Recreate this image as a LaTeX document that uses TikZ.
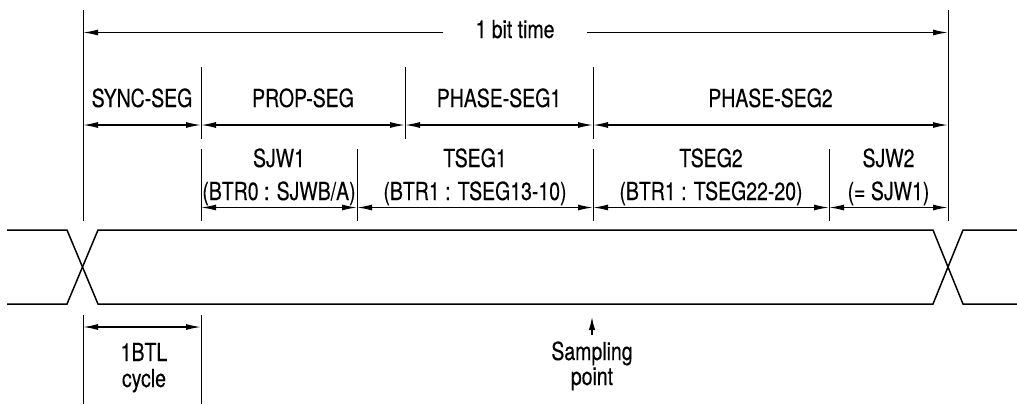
\documentclass[tikz,border=0pt]{standalone}
\usepackage{fontspec}
\setmainfont[FakeStretch=0.78,FakeBold=0.25]{TeX Gyre Heros}
\usetikzlibrary{arrows.meta,positioning,calc}

\begin{document}
\begin{tikzpicture}[x=0.2mm,y=-0.2mm,
    tick/.style={line width=0.5pt},
    dim/.style={line width=0.75pt,{Latex[length=3mm,width=1.2mm]}-{Latex[length=3mm,width=1.2mm]}},
    pointer/.style={line width=0.75pt,-{Latex[length=2.6mm,width=1.3mm]}},
    wave/.style={line width=0.85pt},
    lbl/.style={font=\fontsize{14.2}{17}\selectfont,inner sep=0pt,anchor=base}]
    \useasboundingbox (0,0) rectangle (1017,404);

    % Bit boundaries
    \coordinate (bitL) at (83,32.5); \coordinate (bitR) at (948,32.5);
    \draw[tick] (83,10) -- (83,221);
    \draw[tick] (948,10) -- (948,221);

    % 1 bit time
    \draw[dim] (bitL) -- (bitR);
    \node[lbl,fill=white,inner xsep=6.6mm,inner ysep=1pt] (bit) at (515,38) {1 bit time};

    % Segments
    \foreach \x in {201,405,593} \draw[tick] (\x,67) -- (\x,139);
    \foreach \a/\b in {83/201,201/405,405/593,593/948} \draw[dim] (\a,125) -- (\b,125);
    \node[lbl] (sync)   at (142,107)   {SYNC-SEG};
    \node[lbl] (prop)   at (303,107)   {PROP-SEG};
    \node[lbl] (phase1) at (499,107)   {PHASE-SEG1};
    \node[lbl] (phase2) at (770.5,107) {PHASE-SEG2};

    % Register settings
    \foreach \x in {201,357,593,829} \draw[tick] (\x,149) -- (\x,221);
    \foreach \a/\b in {201/357,357/593,593/829,829/948} \draw[dim] (\a,207.5) -- (\b,207.5);
    \node[lbl] (sjw1)   at (279,167) {SJW1};
    \node[lbl] (sjw1r)  at (279,200) {(BTR0 : SJWB/A)};
    \node[lbl] (tseg1)  at (475,167) {TSEG1};
    \node[lbl] (tseg1r) at (475,200) {(BTR1 : TSEG13-10)};
    \node[lbl] (tseg2)  at (711,167) {TSEG2};
    \node[lbl] (tseg2r) at (711,200) {(BTR1 : TSEG22-20)};
    \node[lbl] (sjw2)   at (888.5,167) {SJW2};
    \node[lbl] (sjw2r)  at (888.5,200) {(= SJW1)};

    % Bus signal
    \draw[wave] (7,230) -- (67,230) -- (98,304) -- (933,304) -- (963,230) -- (1017,230);
    \draw[wave] (7,304) -- (67,304) -- (98,230) -- (933,230) -- (963,304) -- (1017,304);

    % 1BTL cycle
    \draw[tick] (83,315) -- (83,404);
    \draw[tick] (201,315) -- (201,404);
    \draw[dim] (83,327) -- (201,327);
    \node[lbl] (btl)   at (144,361) {1BTL};
    \node[lbl] (cycle) at (144,387) {cycle};

    % Sampling point
    \coordinate (spt) at (592,317);
    \draw[pointer] (592,335) -- (spt);
    \node[lbl] (samp)  at (592,360) {Sampling};
    \node[lbl] (point) at (592,385) {point};
\end{tikzpicture}
\end{document}
